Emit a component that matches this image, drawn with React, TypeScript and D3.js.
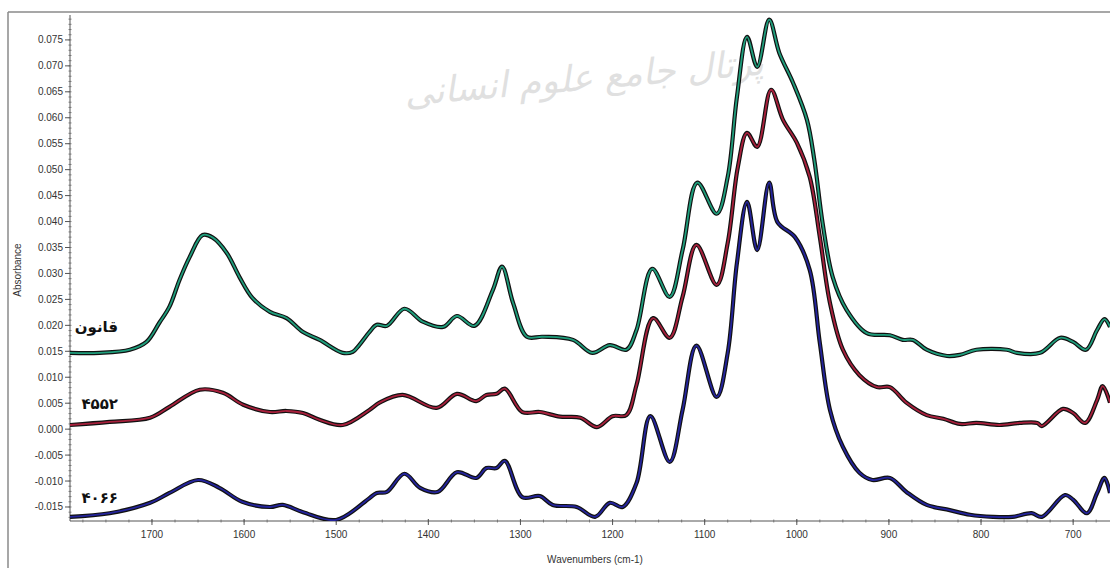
import React from "react";
import * as d3 from "d3";

// wavenumber (cm-1), absorbance
const wavenumbersTop = [1789,1757,1724,1706,1692,1681,1670,1659,1645,1634,1619,1605,1591,1572,1554,1536,1518,1493,1482,1475,1464,1456,1445,1426,1406,1384,1369,1350,1330,1320,1308,1293,1276,1243,1222,1203,1185,1174,1157,1138,1124,1108,1087,1075,1065,1054,1043,1030,1019,1004,989,981,972,961,946,924,899,885,874,859,837,823,805,772,761,736,714,700,686,674,666,660];
const ghanoonValues = [0.0147,0.0147,0.0153,0.0168,0.0205,0.0236,0.0288,0.0332,0.0374,0.0369,0.0340,0.0293,0.0253,0.0226,0.0214,0.0187,0.0172,0.0147,0.0149,0.0162,0.0187,0.0201,0.0199,0.0232,0.0207,0.0197,0.0218,0.0199,0.0268,0.0313,0.0243,0.0178,0.0178,0.0172,0.0147,0.0162,0.0153,0.0191,0.0309,0.0255,0.0345,0.0475,0.0415,0.0486,0.0640,0.0756,0.0698,0.0789,0.0725,0.0667,0.0596,0.0519,0.0397,0.0293,0.0230,0.0185,0.0181,0.0172,0.0172,0.0153,0.0141,0.0143,0.0153,0.0153,0.0147,0.0147,0.0176,0.0168,0.0153,0.0191,0.0212,0.0197];

const wavenumbersMid = [1789,1746,1702,1681,1648,1623,1601,1572,1554,1536,1518,1493,1464,1453,1428,1391,1369,1348,1337,1326,1317,1298,1279,1257,1235,1217,1200,1185,1174,1156,1138,1124,1109,1087,1075,1064,1054,1043,1028,1015,1000,986,975,964,950,932,913,899,881,859,841,823,805,780,758,739,734,711,700,687,674,668,660];
const s4552Values = [0.0008,0.0014,0.0022,0.0043,0.0076,0.0070,0.0047,0.0033,0.0035,0.0031,0.0018,0.0008,0.0037,0.0051,0.0066,0.0041,0.0068,0.0054,0.0066,0.0068,0.0078,0.0033,0.0033,0.0024,0.0022,0.0004,0.0025,0.0027,0.0085,0.0214,0.0176,0.0255,0.0355,0.0278,0.0359,0.0505,0.0571,0.0544,0.0654,0.0596,0.0552,0.0486,0.0370,0.0243,0.0153,0.0104,0.0081,0.0081,0.0051,0.0027,0.0020,0.0010,0.0012,0.0008,0.0012,0.0012,0.0006,0.0039,0.0031,0.0012,0.0056,0.0083,0.0051];

const wavenumbersLow = [1789,1746,1702,1681,1650,1627,1602,1572,1558,1536,1500,1464,1456,1445,1426,1409,1390,1369,1348,1337,1326,1317,1298,1279,1265,1239,1219,1203,1189,1174,1159,1138,1124,1109,1087,1075,1065,1054,1043,1030,1021,1002,986,975,964,950,932,918,899,881,859,834,812,787,766,745,734,709,700,685,674,666,660];
const s4066Values = [-0.0169,-0.0162,-0.0142,-0.0123,-0.0098,-0.0113,-0.0140,-0.0150,-0.0146,-0.0160,-0.0175,-0.0133,-0.0123,-0.0121,-0.0086,-0.0113,-0.0121,-0.0083,-0.0094,-0.0075,-0.0075,-0.0061,-0.0131,-0.0129,-0.0146,-0.0150,-0.0169,-0.0142,-0.0150,-0.0104,0.0025,-0.0063,0.0037,0.0161,0.0062,0.0147,0.0320,0.0438,0.0345,0.0475,0.0399,0.0370,0.0307,0.0166,0.0037,-0.0034,-0.0084,-0.0098,-0.0094,-0.0121,-0.0146,-0.0156,-0.0165,-0.0169,-0.0169,-0.0162,-0.0169,-0.0127,-0.0136,-0.0162,-0.0123,-0.0094,-0.0123];

const seriesNames = ["قانون", "۴۵۵۲", "۴۰۶۶"];
const seriesColors = ["#1f9e7c", "#a8203c", "#24249c"];

const yTickValues = [-0.015,-0.01,-0.005,0,0.005,0.01,0.015,0.02,0.025,0.03,0.035,0.04,0.045,0.05,0.055,0.06,0.065,0.07,0.075];
const xTickValues = [1700,1600,1500,1400,1300,1200,1100,1000,900,800,700];

const W = 1110, H = 568;
const L = 70, R = 1110, T = 15, B = 521;

export default function App() {
  const x = d3.scaleLinear().domain([1789, 660]).range([L, R]);
  const y = d3.scaleLinear().domain([-0.0177, 0.0798]).range([B, T]);
  const line = d3.line<[number, number]>()
    .x(d => x(d[0])).y(d => y(d[1]))
    .curve(d3.curveCatmullRom.alpha(0.5));

  const series = [
    d3.zip(wavenumbersTop, ghanoonValues) as [number, number][],
    d3.zip(wavenumbersMid, s4552Values) as [number, number][],
    d3.zip(wavenumbersLow, s4066Values) as [number, number][],
  ];

  const yMinor = d3.range(-17, 80).map(v => v / 1000);
  const xMinor = d3.range(675, 1790, 25);
  const font = "'Liberation Sans', Arial, sans-serif";
  const labelY = [y(0.0195) + 4, y(0.0046) + 4, y(-0.0134) + 4];

  return (
    <div style={{ position: "fixed", left: 0, top: 0 }}>
      <svg width={W} height={H} style={{ display: "block", background: "#fff" }}>
        <defs>
          <clipPath id="plotclip"><rect x={L} y={T - 8} width={R - L} height={B - T + 8} /></clipPath>
        </defs>
        {/* frame */}
        <line x1={8} y1={12} x2={W} y2={12} stroke="#8a8a8a" strokeWidth={1.5} />
        <line x1={8} y1={12} x2={8} y2={H} stroke="#8a8a8a" strokeWidth={1.5} />
        {/* watermark */}
        <text transform="translate(585,90) rotate(-5)" textAnchor="middle" fontFamily="'DejaVu Sans', sans-serif" fontSize={36}
          fontStyle="italic" fill="#e0e0e0" direction="rtl">پرتال جامع علوم انسانی</text>
        {/* axes */}
        <line x1={L} y1={T} x2={L} y2={B} stroke="#555" strokeWidth={1} />
        <line x1={L} y1={B} x2={R} y2={B} stroke="#555" strokeWidth={1} />
        {yMinor.map((v, i) => (
          <line key={"ym" + i} x1={L - 1.5} x2={L + 1.5} y1={y(v)} y2={y(v)} stroke="#666" strokeWidth={0.8} />
        ))}
        {yTickValues.map((v, i) => (
          <g key={"yt" + i}>
            <line x1={L - 5} x2={L} y1={y(v)} y2={y(v)} stroke="#555" />
            <text x={L - 7} y={y(v) + 3.5} textAnchor="end" fontFamily={font} fontSize={10} fill="#333">
              {d3.format(".3f")(v).replace("−", "-")}
            </text>
          </g>
        ))}
        {xMinor.map((v, i) => (
          <line key={"xm" + i} x1={x(v)} x2={x(v)} y1={B - 1.5} y2={B + 1.5} stroke="#666" strokeWidth={0.8} />
        ))}
        {xTickValues.map((v, i) => (
          <g key={"xt" + i}>
            <line x1={x(v)} x2={x(v)} y1={B - 2} y2={B + 4} stroke="#555" />
            <text x={x(v)} y={538} textAnchor="middle" fontFamily={font} fontSize={10} fill="#333">{v}</text>
          </g>
        ))}
        <text transform={`translate(21,${(T + B) / 2 + 2}) rotate(-90)`} textAnchor="middle" fontFamily={font}
          fontSize={10} fill="#333">Absorbance</text>
        <text x={595} y={563} textAnchor="middle" fontFamily={font} fontSize={10} fill="#333">Wavenumbers (cm-1)</text>
        {/* spectra */}
        <g clipPath="url(#plotclip)">
          {series.map((s, i) => (
            <g key={"s" + i}>
              <path d={line(s) || ""} fill="none" stroke="#111" strokeWidth={4.2} strokeLinejoin="round" />
              <path d={line(s) || ""} fill="none" stroke={seriesColors[i]} strokeWidth={1.8} strokeLinejoin="round" />
            </g>
          ))}
        </g>
        {seriesNames.map((n, i) => (
          <text key={"n" + i} x={118} y={labelY[i]} textAnchor="end" fontFamily="'DejaVu Sans', sans-serif"
            fontWeight="bold" fontSize={15} fill="#111">{n}</text>
        ))}
      </svg>
    </div>
  );
}
